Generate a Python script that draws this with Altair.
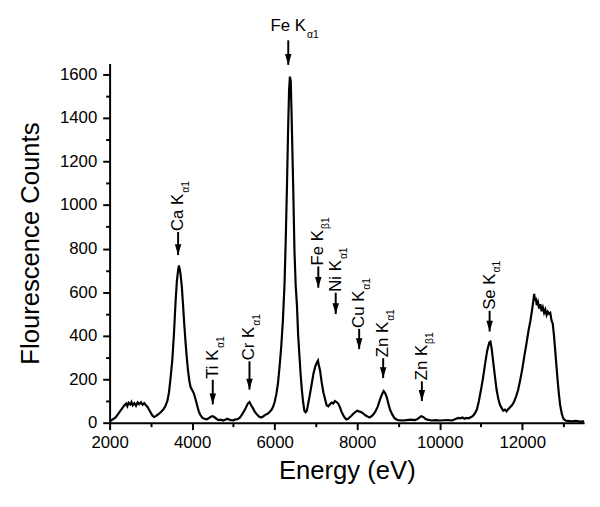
import altair as alt
import pandas as pd

# ---- spectrum ----
energy = [2000, 2050, 2100, 2150, 2200, 2250, 2300, 2350, 2400, 2430, 2460, 2500, 2530, 2560, 2600, 2640,
          2680, 2720, 2760, 2800, 2840, 2880, 2920, 2960, 3000, 3040, 3080, 3120, 3160, 3200, 3250, 3300,
          3350, 3400, 3440, 3480, 3520, 3560, 3600, 3630, 3660, 3680, 3700, 3720, 3750, 3780, 3810, 3840,
          3870, 3900, 3930, 3960, 4000, 4040, 4080, 4120, 4160, 4200, 4250, 4300, 4350, 4400, 4450, 4500,
          4550, 4600, 4650, 4700, 4750, 4800, 4850, 4900, 4950, 5000, 5050, 5100, 5150, 5200, 5250, 5300,
          5350, 5390, 5430, 5470, 5520, 5570, 5620, 5670, 5720, 5770, 5820, 5870, 5920, 5960, 6000, 6040,
          6080, 6120, 6160, 6200, 6240, 6270, 6300, 6330, 6350, 6370, 6390, 6410, 6430, 6450, 6480, 6510,
          6540, 6570, 6600, 6630, 6660, 6690, 6720, 6750, 6780, 6810, 6850, 6900, 6940, 6980, 7020, 7050,
          7070, 7100, 7140, 7180, 7220, 7260, 7300, 7340, 7380, 7420, 7460, 7500, 7540, 7580, 7620, 7660,
          7700, 7740, 7780, 7820, 7860, 7900, 7950, 8000, 8040, 8080, 8120, 8160, 8200, 8250, 8300, 8350,
          8400, 8450, 8500, 8550, 8600, 8640, 8680, 8720, 8760, 8800, 8850, 8900, 8950, 9000, 9100, 9200,
          9300, 9400, 9450, 9500, 9550, 9600, 9650, 9700, 9800, 9900, 10000, 10100, 10200, 10300, 10400,
          10450, 10500, 10550, 10600, 10650, 10700, 10750, 10800, 10850, 10900, 10950, 11000, 11050, 11100,
          11150, 11200, 11230, 11260, 11300, 11340, 11380, 11420, 11460, 11500, 11540, 11580, 11620, 11660,
          11700, 11750, 11800, 11850, 11900, 11950, 12000, 12050, 12100, 12150, 12200, 12240, 12270, 12290,
          12310, 12330, 12350, 12380, 12410, 12440, 12470, 12500, 12530, 12560, 12590, 12620, 12650, 12680,
          12710, 12740, 12770, 12800, 12830, 12860, 12890, 12920, 12960, 13000, 13050, 13100, 13200, 13300,
          13400, 13500]
counts = [5, 12, 18, 25, 38, 52, 65, 78, 88, 76, 92, 84, 95, 80, 90, 78,
          93, 85, 94, 82, 90, 80, 72, 58, 45, 32, 26, 30, 36, 42, 50, 60,
          75, 100, 140, 210, 290, 410, 560, 650, 700, 722, 705, 680, 625, 540, 450, 370,
          300, 240, 195, 165, 150, 135, 110, 80, 52, 35, 22, 18, 15, 20, 27, 30,
          24, 16, 12, 14, 10, 13, 18, 14, 12, 11, 15, 16, 22, 35, 50, 68,
          88, 95, 80, 68, 50, 38, 28, 24, 28, 36, 40, 48, 58, 72, 95, 130,
          180, 260, 350, 470, 640, 850, 1100, 1380, 1530, 1590, 1570, 1420, 1250, 1080, 790, 630,
          540, 400, 310, 220, 150, 95, 55, 48, 55, 85, 125, 180, 225, 255, 275, 285,
          265, 240, 185, 140, 110, 80, 75, 85, 92, 88, 100, 95, 88, 72, 50, 35,
          22, 15, 18, 25, 32, 40, 48, 55, 52, 50, 46, 40, 34, 28, 24, 30,
          40, 55, 75, 105, 130, 145, 135, 115, 85, 58, 38, 22, 15, 12, 10, 12,
          14, 12, 16, 22, 30, 26, 18, 14, 10, 12, 10, 11, 12, 10, 18,
          22, 20, 24, 18, 22, 20, 25, 30, 42, 60, 100, 150, 205, 270,
          330, 368, 372, 340, 275, 210, 150, 110, 82, 68, 55, 60, 52, 62,
          70, 80, 95, 120, 150, 195, 245, 305, 360, 420, 470, 520, 560, 592,
          560, 575, 540, 555, 525, 545, 512, 530, 505, 520, 495, 510, 500, 505,
          470, 455, 400, 330, 260, 190, 130, 80, 40, 18, 10, 8, 6, 8,
          5, 6]

# ---- peak annotations (rotated labels) ----
ann_elem = ["Ca K", "Ti K", "Cr K", "Fe K", "Ni K", "Cu K", "Zn K", "Zn K", "Se K"]
ann_sub = ["α1", "α1", "α1", "β1", "α1", "α1", "α1", "β1", "α1"]
ann_energy = [3660, 4500, 5390, 7058, 7480, 8048, 8630, 9568, 11210]
ann_tip = [770, 84, 152, 620, 499, 338, 205, 100, 419]
ann_top = [876, 197, 282, 718, 597, 431, 296, 190, 514]

# ---- top annotation (horizontal label) ----
top_elem = ["Fe K"]
top_sub = ["α1"]
top_energy = [6330]
top_tip = [1644]
top_tail = [1757]
top_text = [1802]

x_ticks_major = [2000, 4000, 6000, 8000, 10000, 12000]
x_ticks_minor = [3000, 5000, 7000, 9000, 11000, 13000]
y_ticks_major = [0, 200, 400, 600, 800, 1000, 1200, 1400, 1600]
y_ticks_minor = [100, 300, 500, 700, 900, 1100, 1300, 1500]

FONT = "Liberation Sans"
LABEL_SIZE = 17
SUB_SIZE = 10.5
HEAD = "M-1.2,-4L1.2,-4L0,0Z"

spec = pd.DataFrame({"energy": energy, "counts": counts})
ann = pd.DataFrame({"energy": ann_energy, "tip": ann_tip, "top": ann_top,
                    "elem": ann_elem, "sub": ann_sub})
topdf = pd.DataFrame({"energy": top_energy, "tip": top_tip, "top": top_tail,
                      "text": top_text, "elem": top_elem, "sub": top_sub})

xs = alt.Scale(domain=[2000, 13500], nice=False, zero=False)
ys = alt.Scale(domain=[0, 1650], nice=False)

line = alt.Chart(spec).mark_line(color="black", strokeWidth=2.2).encode(
    x=alt.X("energy:Q", scale=xs,
            axis=alt.Axis(values=x_ticks_major, tickSize=7, format="d", title="Energy (eV)",
                          orient="bottom", labelFlush=False, labelPadding=5, titlePadding=8,
                          grid=False)),
    y=alt.Y("counts:Q", scale=ys,
            axis=alt.Axis(values=y_ticks_major, tickSize=7, format="d", title="Flourescence Counts",
                          orient="left", labelPadding=6, titlePadding=16, grid=False)),
)

minor = alt.Chart(spec).mark_line(opacity=0).encode(
    x=alt.X("energy:Q", scale=xs,
            axis=alt.Axis(values=x_ticks_minor, tickSize=4, labels=False, title=None,
                          domain=False, orient="bottom", grid=False)),
    y=alt.Y("counts:Q", scale=ys,
            axis=alt.Axis(values=y_ticks_minor, tickSize=4, labels=False, title=None,
                          domain=False, orient="left", grid=False)),
)

def xe():
    return alt.X("energy:Q", scale=xs, axis=None)

rules = alt.Chart(ann).mark_rule(color="black", strokeWidth=2).encode(
    x=xe(), y=alt.Y("top:Q", scale=ys, axis=None), y2="tip:Q")
heads = alt.Chart(ann).mark_point(shape=HEAD, size=30.25, filled=True, color="black",
                                  opacity=1, strokeWidth=0).encode(
    x=xe(), y=alt.Y("tip:Q", scale=ys, axis=None))
labels = alt.Chart(ann).mark_text(angle=270, align="left", baseline="middle", dx=1,
                                  font=FONT, fontSize=LABEL_SIZE, color="black").encode(
    x=xe(), y=alt.Y("top:Q", scale=ys, axis=None), text="elem:N")

# approximate Arial/Liberation Sans advance widths (em units) for the subscript offset
W = {'C': 0.722, 'a': 0.556, ' ': 0.278, 'K': 0.667, 'T': 0.611, 'i': 0.222, 'r': 0.333,
     'F': 0.611, 'e': 0.556, 'N': 0.722, 'u': 0.556, 'Z': 0.611, 'n': 0.556, 'S': 0.667}

def text_w(s):
    return sum(W.get(c, 0.556) for c in s) * LABEL_SIZE

subs = []
for i in range(len(ann)):
    subs.append(alt.Chart(ann.iloc[[i]]).mark_text(
        angle=270, align="left", baseline="alphabetic", dx=1 + text_w(ann_elem[i]) + 1, dy=11,
        font=FONT, fontSize=SUB_SIZE, color="black").encode(
        x=xe(), y=alt.Y("top:Q", scale=ys, axis=None), text="sub:N"))

top_rule = alt.Chart(topdf).mark_rule(color="black", strokeWidth=2).encode(
    x=xe(), y=alt.Y("top:Q", scale=ys, axis=None), y2="tip:Q")
top_head = alt.Chart(topdf).mark_point(shape=HEAD, size=30.25, filled=True, color="black",
                                       opacity=1, strokeWidth=0).encode(
    x=xe(), y=alt.Y("tip:Q", scale=ys, axis=None))
top_label = alt.Chart(topdf).mark_text(align="center", baseline="alphabetic",
                                       font=FONT, fontSize=LABEL_SIZE, color="black").encode(
    x=xe(), y=alt.Y("text:Q", scale=ys, axis=None), text="elem:N")
top_subl = alt.Chart(topdf).mark_text(align="left", baseline="alphabetic",
                                      dx=text_w(top_elem[0]) / 2 + 1, dy=8,
                                      font=FONT, fontSize=SUB_SIZE, color="black").encode(
    x=xe(), y=alt.Y("text:Q", scale=ys, axis=None), text="sub:N")

chart = alt.layer(line, minor, rules, heads, labels, *subs, top_rule, top_head, top_label, top_subl
).resolve_axis(x="independent", y="independent").properties(
    width=481, height=364,
    autosize=alt.AutoSizeParams(type="none"),
    padding={"left": 103, "top": 53, "right": 8, "bottom": 74},
).configure_view(stroke=None).configure_axis(
    domainColor="black", domainWidth=2, tickColor="black", tickWidth=2,
    labelColor="black", titleColor="black", labelFont=FONT, titleFont=FONT,
    labelFontSize=LABEL_SIZE, titleFontSize=26, titleFontWeight="normal",
)

chart.save("out.html", embed_options={"renderer": "svg", "actions": False})
